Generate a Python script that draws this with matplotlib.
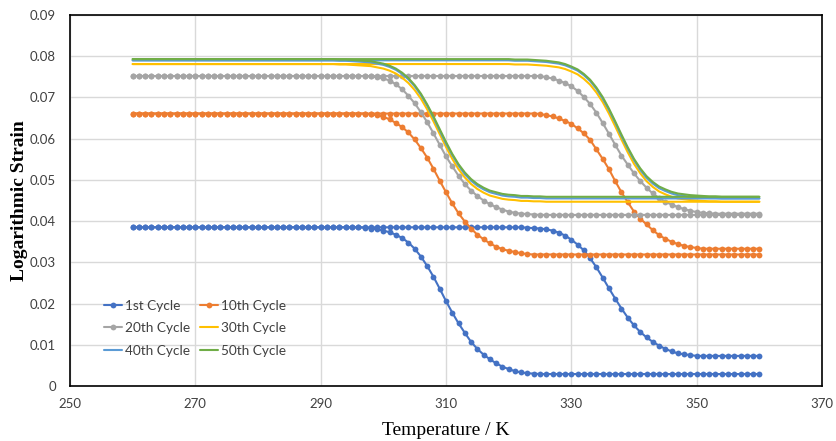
import numpy as np
import matplotlib
matplotlib.use("Agg")
import matplotlib.pyplot as plt

# ---------------- data ----------------
temps = list(range(260, 361))  # K, 1 K step

# 1st cycle
c1_cool = ([0.0385] * 37 +
           [0.0384, 0.0382, 0.0380, 0.0377, 0.0373, 0.0367, 0.0359, 0.0348, 0.0333, 0.0314,
            0.0291, 0.0265, 0.0236, 0.0206, 0.0178, 0.0152, 0.0129, 0.0107, 0.0090, 0.0076,
            0.0065, 0.0055, 0.0047, 0.0041, 0.0036, 0.0033, 0.0031, 0.0030] +
           [0.0029] * 36)
c1_heat = ([0.0385] * 62 +
           [0.0385, 0.0384, 0.0383, 0.0382, 0.0380, 0.0377, 0.0372, 0.0365, 0.0355, 0.0343,
            0.0329, 0.0310, 0.0288, 0.0263, 0.0237, 0.0212, 0.0188, 0.0166, 0.0147, 0.0131,
            0.0118, 0.0107, 0.0098, 0.0090, 0.0084, 0.0079, 0.0077, 0.0075] +
           [0.0073] * 11)

# 10th cycle
c10_cool = ([0.0661] * 38 +
            [0.0659, 0.0657, 0.0653, 0.0647, 0.0638, 0.0628, 0.0615, 0.0598, 0.0577, 0.0554,
             0.0527, 0.0498, 0.0470, 0.0443, 0.0419, 0.0399, 0.0382, 0.0367, 0.0356, 0.0346,
             0.0338, 0.0332, 0.0328, 0.0325, 0.0322, 0.0320] +
            [0.0319] * 37)
c10_heat = ([0.0661] * 65 +
            [0.0660, 0.0657, 0.0654, 0.0649, 0.0643, 0.0636, 0.0625, 0.0613, 0.0597, 0.0574,
             0.0551, 0.0526, 0.0497, 0.0470, 0.0446, 0.0423, 0.0406, 0.0392, 0.0378, 0.0366,
             0.0357, 0.0350, 0.0344, 0.0340, 0.0337, 0.0335] +
            [0.0333] * 10)

# 20th cycle
c20_cool = ([0.0752] * 38 +
            [0.0751, 0.0749, 0.0746, 0.0741, 0.0732, 0.0720, 0.0704, 0.0686, 0.0664, 0.0640,
             0.0613, 0.0585, 0.0557, 0.0533, 0.0510, 0.0490, 0.0474, 0.0461, 0.0450, 0.0441,
             0.0434, 0.0428, 0.0423, 0.0420, 0.0418, 0.0417, 0.0416] +
            [0.0415] * 36)
c20_heat = ([0.0752] * 66 +
            [0.0749, 0.0746, 0.0741, 0.0735, 0.0727, 0.0716, 0.0701, 0.0684, 0.0663, 0.0638,
             0.0612, 0.0585, 0.0559, 0.0537, 0.0516, 0.0497, 0.0481, 0.0467, 0.0456, 0.0447,
             0.0440, 0.0434, 0.0429, 0.0425, 0.0422, 0.0420, 0.0419] +
            [0.0418] * 8)

# 30th cycle
c30_cool = ([0.0781] * 33 +
            [0.0780, 0.0780, 0.0779, 0.0778, 0.0777, 0.0776, 0.0773, 0.0770, 0.0765, 0.0758,
             0.0748, 0.0735, 0.0718, 0.0697, 0.0671, 0.0642, 0.0611, 0.0580, 0.0551, 0.0526,
             0.0506, 0.0490, 0.0478, 0.0469, 0.0462, 0.0458, 0.0454, 0.0452, 0.0451, 0.0449,
             0.0449, 0.0448, 0.0448] +
            [0.0447] * 35)
c30_heat = ([0.0781] * 61 +
            [0.0780, 0.0780, 0.0780, 0.0779, 0.0778, 0.0777, 0.0775, 0.0773, 0.0769, 0.0763,
             0.0756, 0.0745, 0.0731, 0.0712, 0.0689, 0.0661, 0.0630, 0.0598, 0.0567, 0.0539,
             0.0516, 0.0497, 0.0483, 0.0472, 0.0465, 0.0459, 0.0455, 0.0453, 0.0451, 0.0450,
             0.0449, 0.0448, 0.0448] +
            [0.0447] * 7)

# 40th cycle
c40_cool = ([0.0790] * 33 +
            [0.0789, 0.0789, 0.0788, 0.0787, 0.0786, 0.0785, 0.0782, 0.0779, 0.0774, 0.0767,
             0.0757, 0.0744, 0.0727, 0.0706, 0.0680, 0.0651, 0.0619, 0.0588, 0.0560, 0.0535,
             0.0514, 0.0498, 0.0486, 0.0477, 0.0470, 0.0466, 0.0462, 0.0460, 0.0459, 0.0457,
             0.0457, 0.0456, 0.0456] +
            [0.0455] * 35)
c40_heat = ([0.0790] * 61 +
            [0.0789, 0.0789, 0.0789, 0.0788, 0.0787, 0.0786, 0.0784, 0.0782, 0.0778, 0.0772,
             0.0765, 0.0754, 0.0740, 0.0721, 0.0697, 0.0670, 0.0639, 0.0606, 0.0576, 0.0548,
             0.0524, 0.0505, 0.0491, 0.0480, 0.0473, 0.0467, 0.0463, 0.0461, 0.0459, 0.0458,
             0.0457, 0.0456, 0.0456] +
            [0.0455] * 7)

# 50th cycle
c50_cool = ([0.0793] * 33 +
            [0.0792, 0.0792, 0.0791, 0.0790, 0.0789, 0.0788, 0.0785, 0.0782, 0.0777, 0.0770,
             0.0760, 0.0747, 0.0730, 0.0709, 0.0683, 0.0654, 0.0623, 0.0592, 0.0563, 0.0538,
             0.0518, 0.0502, 0.0490, 0.0481, 0.0474, 0.0470, 0.0466, 0.0464, 0.0463, 0.0461,
             0.0461, 0.0460, 0.0460] +
            [0.0459] * 35)
c50_heat = ([0.0793] * 61 +
            [0.0792, 0.0792, 0.0792, 0.0791, 0.0790, 0.0789, 0.0787, 0.0785, 0.0781, 0.0775,
             0.0768, 0.0757, 0.0743, 0.0724, 0.0701, 0.0673, 0.0642, 0.0610, 0.0579, 0.0551,
             0.0528, 0.0509, 0.0495, 0.0484, 0.0477, 0.0471, 0.0467, 0.0465, 0.0463, 0.0462,
             0.0461, 0.0460, 0.0460] +
            [0.0459] * 7)

labels = ["1st Cycle", "10th Cycle", "20th Cycle", "30th Cycle", "40th Cycle", "50th Cycle"]
colors = ["#4472C4", "#ED7D31", "#A5A5A5", "#FFC000", "#5B9BD5", "#70AD47"]
series = [(c1_cool, c1_heat), (c10_cool, c10_heat), (c20_cool, c20_heat),
          (c30_cool, c30_heat), (c40_cool, c40_heat), (c50_cool, c50_heat)]
with_markers = [True, True, True, False, False, False]

xticks = [250, 270, 290, 310, 330, 350, 370]
yticks = [0, 0.01, 0.02, 0.03, 0.04, 0.05, 0.06, 0.07, 0.08, 0.09]
ytick_labels = ["0", "0.01", "0.02", "0.03", "0.04", "0.05", "0.06", "0.07", "0.08", "0.09"]

# ---------------- plot ----------------
plt.rcParams["font.family"] = ["Lato", "DejaVu Sans"]

fig = plt.figure(figsize=(8.36, 4.41), dpi=100)
ax = fig.add_axes([70 / 836, 1 - 386 / 441, 752 / 836, 371 / 441])

handles = []
for (cool, heat), lab, col, mk in zip(series, labels, colors, with_markers):
    kw = dict(color=col, lw=1.5, solid_capstyle="round")
    if mk:
        kw.update(marker="o", markersize=4.2, markeredgewidth=0)
    h, = ax.plot(temps, cool, label=lab, **kw)
    ax.plot(temps, heat, **kw)
    handles.append(h)

ax.set_xlim(250, 370)
ax.set_ylim(0, 0.09)
ax.set_xticks(xticks)
ax.set_xticklabels([str(v) for v in xticks])
ax.set_yticks(yticks)
ax.set_yticklabels(ytick_labels)
ax.grid(True, color="#D9D9D9", lw=1.0)
ax.set_axisbelow(True)
ax.tick_params(length=0, labelsize=9.5, labelcolor="#404040")
ax.tick_params(axis="y", pad=10)
ax.tick_params(axis="x", pad=9)
for s in ax.spines.values():
    s.set_color("black")
    s.set_linewidth(1.2)

ax.set_xlabel("Temperature / K", family="Liberation Serif", fontsize=14, labelpad=8)
ax.set_ylabel("Logarithmic Strain", family="Liberation Serif", fontsize=14,
              fontweight="bold", labelpad=8)
ax.yaxis.set_label_coords(-0.056, 0.5)

order = [0, 2, 4, 1, 3, 5]
leg = ax.legend([handles[i] for i in order], [labels[i] for i in order],
                ncol=2, loc="lower left", bbox_to_anchor=(0.038, 0.064),
                frameon=False, fontsize=9.8, handlelength=1.35, handletextpad=0.2,
                labelspacing=0.78, columnspacing=0.7, borderaxespad=0)
for t in leg.get_texts():
    t.set_color("#404040")

fig.savefig("out.png", dpi=100)
